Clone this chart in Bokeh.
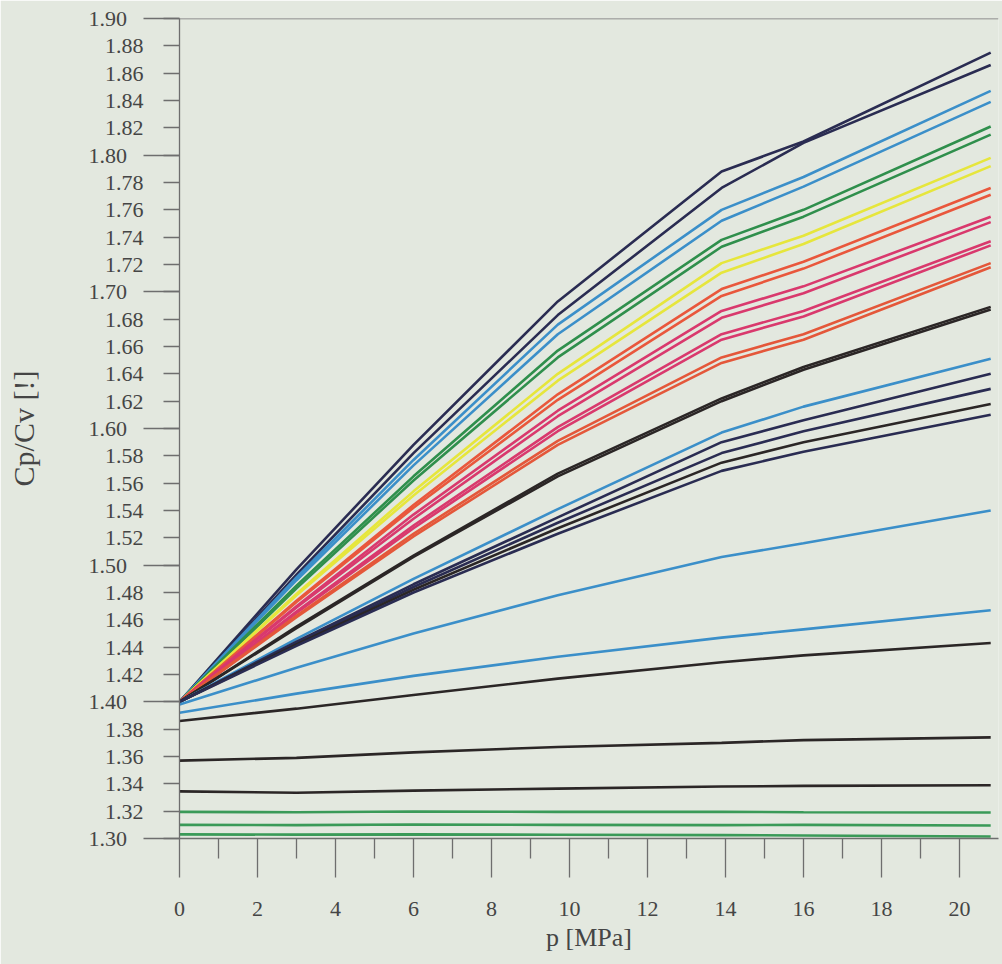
from bokeh.plotting import figure
from bokeh.models import FixedTicker, Range1d, Span
from bokeh.embed import file_html
from bokeh.resources import INLINE

# pressure sample points [MPa]
P = [0, 3, 6, 9.7, 13.9, 16, 20.8]

navy_1 = [1.400, 1.497, 1.588, 1.693, 1.788, 1.810, 1.875]
navy_2 = [1.400, 1.493, 1.582, 1.683, 1.776, 1.809, 1.866]
blue_1 = [1.400, 1.491, 1.577, 1.676, 1.760, 1.784, 1.847]
blue_2 = [1.400, 1.489, 1.573, 1.669, 1.752, 1.777, 1.839]
green_1 = [1.400, 1.485, 1.565, 1.657, 1.738, 1.760, 1.821]
green_2 = [1.400, 1.483, 1.562, 1.652, 1.733, 1.755, 1.815]
yellow_1 = [1.400, 1.479, 1.554, 1.640, 1.721, 1.741, 1.798]
yellow_2 = [1.400, 1.478, 1.551, 1.635, 1.714, 1.735, 1.792]
red_1 = [1.400, 1.474, 1.544, 1.625, 1.702, 1.722, 1.776]
red_2 = [1.400, 1.473, 1.542, 1.621, 1.697, 1.717, 1.771]
crimson_1 = [1.400, 1.470, 1.537, 1.613, 1.686, 1.704, 1.755]
crimson_2 = [1.400, 1.469, 1.534, 1.609, 1.681, 1.699, 1.751]
crimson_3 = [1.400, 1.466, 1.529, 1.601, 1.669, 1.686, 1.737]
crimson_4 = [1.400, 1.465, 1.527, 1.598, 1.665, 1.682, 1.734]
orange_1 = [1.400, 1.463, 1.523, 1.591, 1.652, 1.669, 1.721]
orange_2 = [1.400, 1.462, 1.521, 1.588, 1.648, 1.665, 1.718]
black_1 = [1.400, 1.455, 1.507, 1.567, 1.622, 1.645, 1.689]
black_2 = [1.400, 1.454, 1.506, 1.565, 1.620, 1.643, 1.687]
blue_3 = [1.400, 1.446, 1.490, 1.541, 1.597, 1.616, 1.651]
navy_3 = [1.400, 1.444, 1.486, 1.535, 1.590, 1.606, 1.640]
navy_4 = [1.400, 1.443, 1.484, 1.531, 1.582, 1.598, 1.629]
black_3 = [1.400, 1.442, 1.482, 1.527, 1.575, 1.590, 1.618]
navy_5 = [1.400, 1.441, 1.480, 1.523, 1.569, 1.583, 1.610]
blue_4 = [1.398, 1.425, 1.450, 1.478, 1.506, 1.516, 1.540]
blue_5 = [1.392, 1.406, 1.419, 1.433, 1.447, 1.453, 1.467]
black_4 = [1.386, 1.395, 1.405, 1.417, 1.429, 1.434, 1.443]
black_5 = [1.357, 1.359, 1.363, 1.367, 1.370, 1.372, 1.374]
black_6 = [1.3345, 1.3335, 1.335, 1.3365, 1.338, 1.3385, 1.339]
green_3 = [1.3195, 1.3192, 1.3198, 1.3195, 1.3196, 1.3192, 1.3190]
green_4 = [1.3100, 1.3098, 1.3102, 1.3100, 1.3098, 1.3100, 1.3095]
green_5 = [1.3030, 1.3028, 1.3030, 1.3027, 1.3025, 1.3022, 1.3015]

# tick values / labels
x_major = [0, 2, 4, 6, 8, 10, 12, 14, 16, 18, 20]
x_minor = [1, 3, 5, 7, 9, 11, 13, 15, 17, 19]
y_ticks = [1.30, 1.32, 1.34, 1.36, 1.38, 1.40, 1.42, 1.44, 1.46, 1.48, 1.50,
           1.52, 1.54, 1.56, 1.58, 1.60, 1.62, 1.64, 1.66, 1.68, 1.70,
           1.72, 1.74, 1.76, 1.78, 1.80, 1.82, 1.84, 1.86, 1.88, 1.90]
y_tick_labels = ["1.30", "1.32", "1.34", "1.36", "1.38", "1.40", "1.42", "1.44", "1.46",
                 "1.48", "1.50", "1.52", "1.54", "1.56", "1.58", "1.60", "1.62", "1.64",
                 "1.66", "1.68", "1.70", "1.72", "1.74", "1.76", "1.78", "1.80", "1.82",
                 "1.84", "1.86", "1.88", "1.90"]
y_long = [1.30, 1.40, 1.50, 1.60, 1.70, 1.80, 1.90]   # long ticks, labels set further out

NAVY = "#2a2c52"
BLUE = "#3b8fc9"
GREEN = "#2f8f4c"
YELLOW = "#e6e63c"
RED = "#e9573c"
CRIMSON = "#d9396d"
ORANGE = "#e4573a"
BLACK = "#2b2626"
LGREEN = "#3a9a58"

series = [
    (navy_1, NAVY), (navy_2, NAVY), (blue_1, BLUE), (blue_2, BLUE),
    (green_1, GREEN), (green_2, GREEN), (yellow_1, YELLOW), (yellow_2, YELLOW),
    (red_1, RED), (red_2, RED), (crimson_1, CRIMSON), (crimson_2, CRIMSON),
    (crimson_3, CRIMSON), (crimson_4, CRIMSON), (orange_1, ORANGE), (orange_2, ORANGE),
    (black_1, BLACK), (black_2, BLACK), (blue_3, BLUE), (navy_3, NAVY),
    (navy_4, NAVY), (black_3, BLACK), (navy_5, NAVY), (blue_4, BLUE),
    (blue_5, BLUE), (black_4, BLACK), (black_5, BLACK), (black_6, BLACK),
    (green_3, LGREEN), (green_4, LGREEN), (green_5, LGREEN),
]

BG = "#e3e8df"
AX = "#6e6e6e"
TXT = "#454545"
FONT = "Liberation Serif"
NB = "\u00a0"

p = figure(width=1002, height=964, output_backend="svg", toolbar_location=None,
           x_range=Range1d(0, 21.0), y_range=Range1d(1.30, 1.90),
           min_border_left=179, min_border_right=4, min_border_top=18,
           min_border_bottom=126)
p.background_fill_color = BG
p.border_fill_color = BG
p.outline_line_color = None
p.grid.visible = False

for vals, col in series:
    p.line(P, vals, line_color=col, line_width=2.6)

# top frame line
p.add_layout(Span(location=1.90, dimension="width", line_color=AX, line_width=1.3))

# x axis
xa = p.xaxis[0]
xa.ticker = FixedTicker(ticks=x_major, minor_ticks=x_minor)
xa.axis_line_color = AX
xa.axis_line_width = 1.3
xa.major_tick_line_color = AX
xa.minor_tick_line_color = AX
xa.major_tick_line_width = 1.3
xa.minor_tick_line_width = 1.3
xa.major_tick_in = 0
xa.major_tick_out = 39
xa.minor_tick_in = 0
xa.minor_tick_out = 20
xa.major_label_standoff = 24
xa.major_label_text_font = FONT
xa.major_label_text_font_size = "22px"
xa.major_label_text_color = TXT
xa.axis_label = "p [MPa]"
xa.axis_label_text_font = FONT
xa.axis_label_text_font_size = "26px"
xa.axis_label_text_font_style = "normal"
xa.axis_label_text_color = TXT
xa.axis_label_standoff = 4

# y axis: every 0.02 labelled; 0.1 steps get long ticks and labels set further out
ya = p.yaxis[0]
ya.ticker = FixedTicker(ticks=y_ticks, minor_ticks=y_long)
overrides = {}
for v, s in zip(y_ticks, y_tick_labels):
    overrides[v] = s + NB * 3 if v in y_long else s
ya.major_label_overrides = overrides
ya.axis_line_color = AX
ya.axis_line_width = 1.3
ya.major_tick_line_color = AX
ya.minor_tick_line_color = AX
ya.major_tick_line_width = 1.3
ya.minor_tick_line_width = 1.3
ya.major_tick_in = 0
ya.major_tick_out = 16
ya.minor_tick_in = 0
ya.minor_tick_out = 36
ya.major_label_standoff = 0
ya.major_label_text_font = FONT
ya.major_label_text_font_size = "22px"
ya.major_label_text_color = TXT
ya.axis_label = "Cp/Cv [!]"
ya.axis_label_text_font = FONT
ya.axis_label_text_font_size = "30px"
ya.axis_label_text_font_style = "normal"
ya.axis_label_text_color = TXT
ya.axis_label_standoff = 46

open("out.html", "w").write(file_html(p, INLINE))
